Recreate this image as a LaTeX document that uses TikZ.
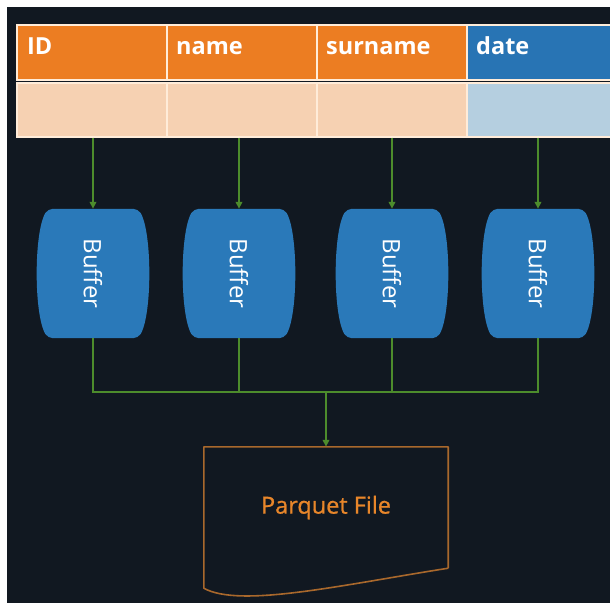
\documentclass[tikz,border=0pt]{standalone}
\usepackage{fontspec}
\setmainfont{Open Sans}
\newfontfamily\medfont[FakeBold=0.8]{Open Sans}
\usetikzlibrary{arrows.meta,backgrounds}
\definecolor{bgdark}{HTML}{111821}
\definecolor{hdrorange}{HTML}{EC7D22}
\definecolor{bodyorange}{HTML}{F6D1B2}
\definecolor{hdrblue}{HTML}{2874B4}
\definecolor{bodyblue}{HTML}{B5CFE0}
\definecolor{bufblue}{HTML}{2A79B9}
\definecolor{flowgreen}{HTML}{4D8C2C}
\definecolor{filebrown}{HTML}{A9682C}
\definecolor{fileorange}{HTML}{E8862A}
\tikzset{
  cell/.style={rectangle, minimum width=150pt, inner sep=0pt, draw=white!85!orange, line width=1.2pt},
  hcell/.style={cell, minimum height=55pt},
  bcell/.style={cell, minimum height=54pt},
  htext/.style={anchor=base west, inner sep=0pt, text=white, font=\bfseries\fontsize{23.5}{26}\selectfont},
  bufbox/.style={rectangle, minimum width=90pt, minimum height=129pt, inner sep=0pt, text=white, font=\fontsize{24}{26}\selectfont},
  flow/.style={draw=flowgreen, line width=1.8pt},
  arrow/.style={flow, -{Triangle[length=7pt,width=6.5pt]}},
}
\newcommand{\barrelshape}[1]{%
  \fill[bufblue, rounded corners=5pt] (#1.north) -- (#1.north east)
    .. controls ([xshift=14pt,yshift=-24pt]#1.north east) and ([xshift=14pt,yshift=24pt]#1.south east) .. (#1.south east)
    -- (#1.south west)
    .. controls ([xshift=-14pt,yshift=24pt]#1.south west) and ([xshift=-14pt,yshift=-24pt]#1.north west) .. (#1.north west) -- cycle;}
\begin{document}
\begin{tikzpicture}[x=1pt,y=-1pt]
\useasboundingbox (0,0) rectangle (610,603);
\begin{scope}[on background layer]
\fill[white] (0,0) rectangle (610,603);
\fill[bgdark] (7,7) rectangle (610,603);
\end{scope}
\clip (0,0) rectangle (610,603);
% table
\node[hcell, fill=hdrorange] (h1) at (92,52.5) {};
\node[hcell, fill=hdrorange] (h2) at (242,52.5) {};
\node[hcell, fill=hdrorange] (h3) at (392,52.5) {};
\node[hcell, fill=hdrblue] (h4) at (542,52.5) {};
\node[bcell, fill=bodyorange] (r1) at (92,110) {};
\node[bcell, fill=bodyorange] (r2) at (242,110) {};
\node[bcell, fill=bodyorange] (r3) at (392,110) {};
\node[bcell, fill=bodyblue] (r4) at (542,110) {};
\node[htext] (t1) at (27,54) {ID};
\node[htext] (t2) at (176,54) {name};
\node[htext] (t3) at (326,54) {surname};
\node[htext] (t4) at (476,54) {date};
% buffers
\node[bufbox] (b1) at (93,273.5) {\rotatebox{-90}{Buffer}};
\node[bufbox] (b2) at (239,273.5) {\rotatebox{-90}{Buffer}};
\node[bufbox] (b3) at (392,273.5) {\rotatebox{-90}{Buffer}};
\node[bufbox] (b4) at (538,273.5) {\rotatebox{-90}{Buffer}};
\begin{scope}[on background layer]
\barrelshape{b1}
\barrelshape{b2}
\barrelshape{b3}
\barrelshape{b4}
\end{scope}
% file
\node[rectangle, minimum width=244pt, minimum height=121pt, inner sep=0pt,
  text=fileorange, font=\medfont\fontsize{23.5}{26}\selectfont] (file) at (326,507.5) {Parquet File};
\draw[filebrown, line width=1.6pt, line join=round]
  (file.south east) -- (file.north east) -- (file.north west) -- ([yshift=-20pt]file.south west)
  .. controls ([xshift=36pt,yshift=-40pt]file.south west) and ([xshift=-108pt,yshift=-17pt]file.south east) .. (file.south east);
% connectors
\coordinate (bus) at (326,392);
\draw[arrow] (b1.north |- r1.south) -- (b1.north);
\draw[arrow] (b2.north |- r2.south) -- (b2.north);
\draw[arrow] (b3.north |- r3.south) -- (b3.north);
\draw[arrow] (b4.north |- r4.south) -- (b4.north);
\draw[flow] (b1.south) |- (b4.south |- bus) -- (b4.south);
\draw[flow] (b2.south) -- (b2.south |- bus);
\draw[flow] (b3.south) -- (b3.south |- bus);
\draw[arrow] (bus) -- (file.north);
\end{tikzpicture}
\end{document}
